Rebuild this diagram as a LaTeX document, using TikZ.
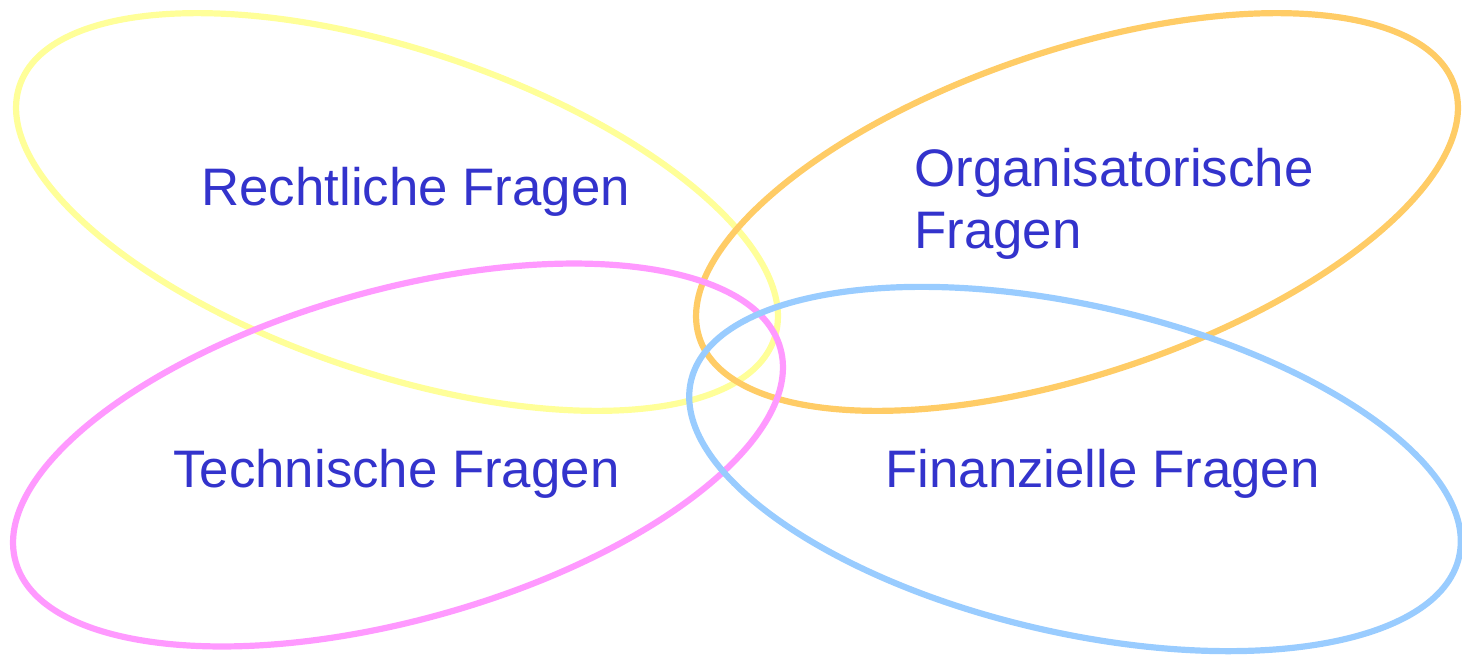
\documentclass[tikz,border=0pt]{standalone}
\usepackage{fontspec}
\setmainfont{Liberation Sans}
\usepackage{tikz}
\usetikzlibrary{positioning,calc}
\definecolor{ringyellow}{HTML}{FFFF99}
\definecolor{ringorange}{HTML}{FFCC66}
\definecolor{ringpink}{HTML}{FF99FF}
\definecolor{ringblue}{HTML}{99CCFF}
\definecolor{labblue}{HTML}{3333CC}
\tikzstyle{ring}=[line width=3.1pt]
\tikzstyle{lab}=[anchor=base west, inner sep=0pt, text=labblue, font=\fontsize{26.4}{31}\selectfont, align=left]

\begin{document}
\begin{tikzpicture}[x=0.5pt, y=-0.5pt]
        \useasboundingbox (0,0) rectangle (1462,654);
        %
        \draw[ring, ringyellow, rotate around={-18.5:(397,212)}] (397,212) ellipse [x radius=199pt, y radius=81pt];
        \draw[ring, ringorange, rotate around={18.5:(1077,212)}] (1077,212) ellipse [x radius=199pt, y radius=81pt];
        \draw[ring, ringpink, rotate around={15.6:(398,455)}] (398,455) ellipse [x radius=198.5pt, y radius=82.5pt];
        \draw[ring, ringblue, rotate around={-12.9:(1075,469)}] (1075,469) ellipse [x radius=197pt, y radius=81.8pt];
        % 
        \node[lab] (recht) at (201,205) {Rechtliche Fragen};
        \node[lab] (orga) at (914,248) {Organisatorische\\Fragen};
        \node[lab] (tech) at (173,487) {Technische Fragen};
        \node[lab] (fin) at (885,487) {Finanzielle Fragen};
\end{tikzpicture}
\end{document}
